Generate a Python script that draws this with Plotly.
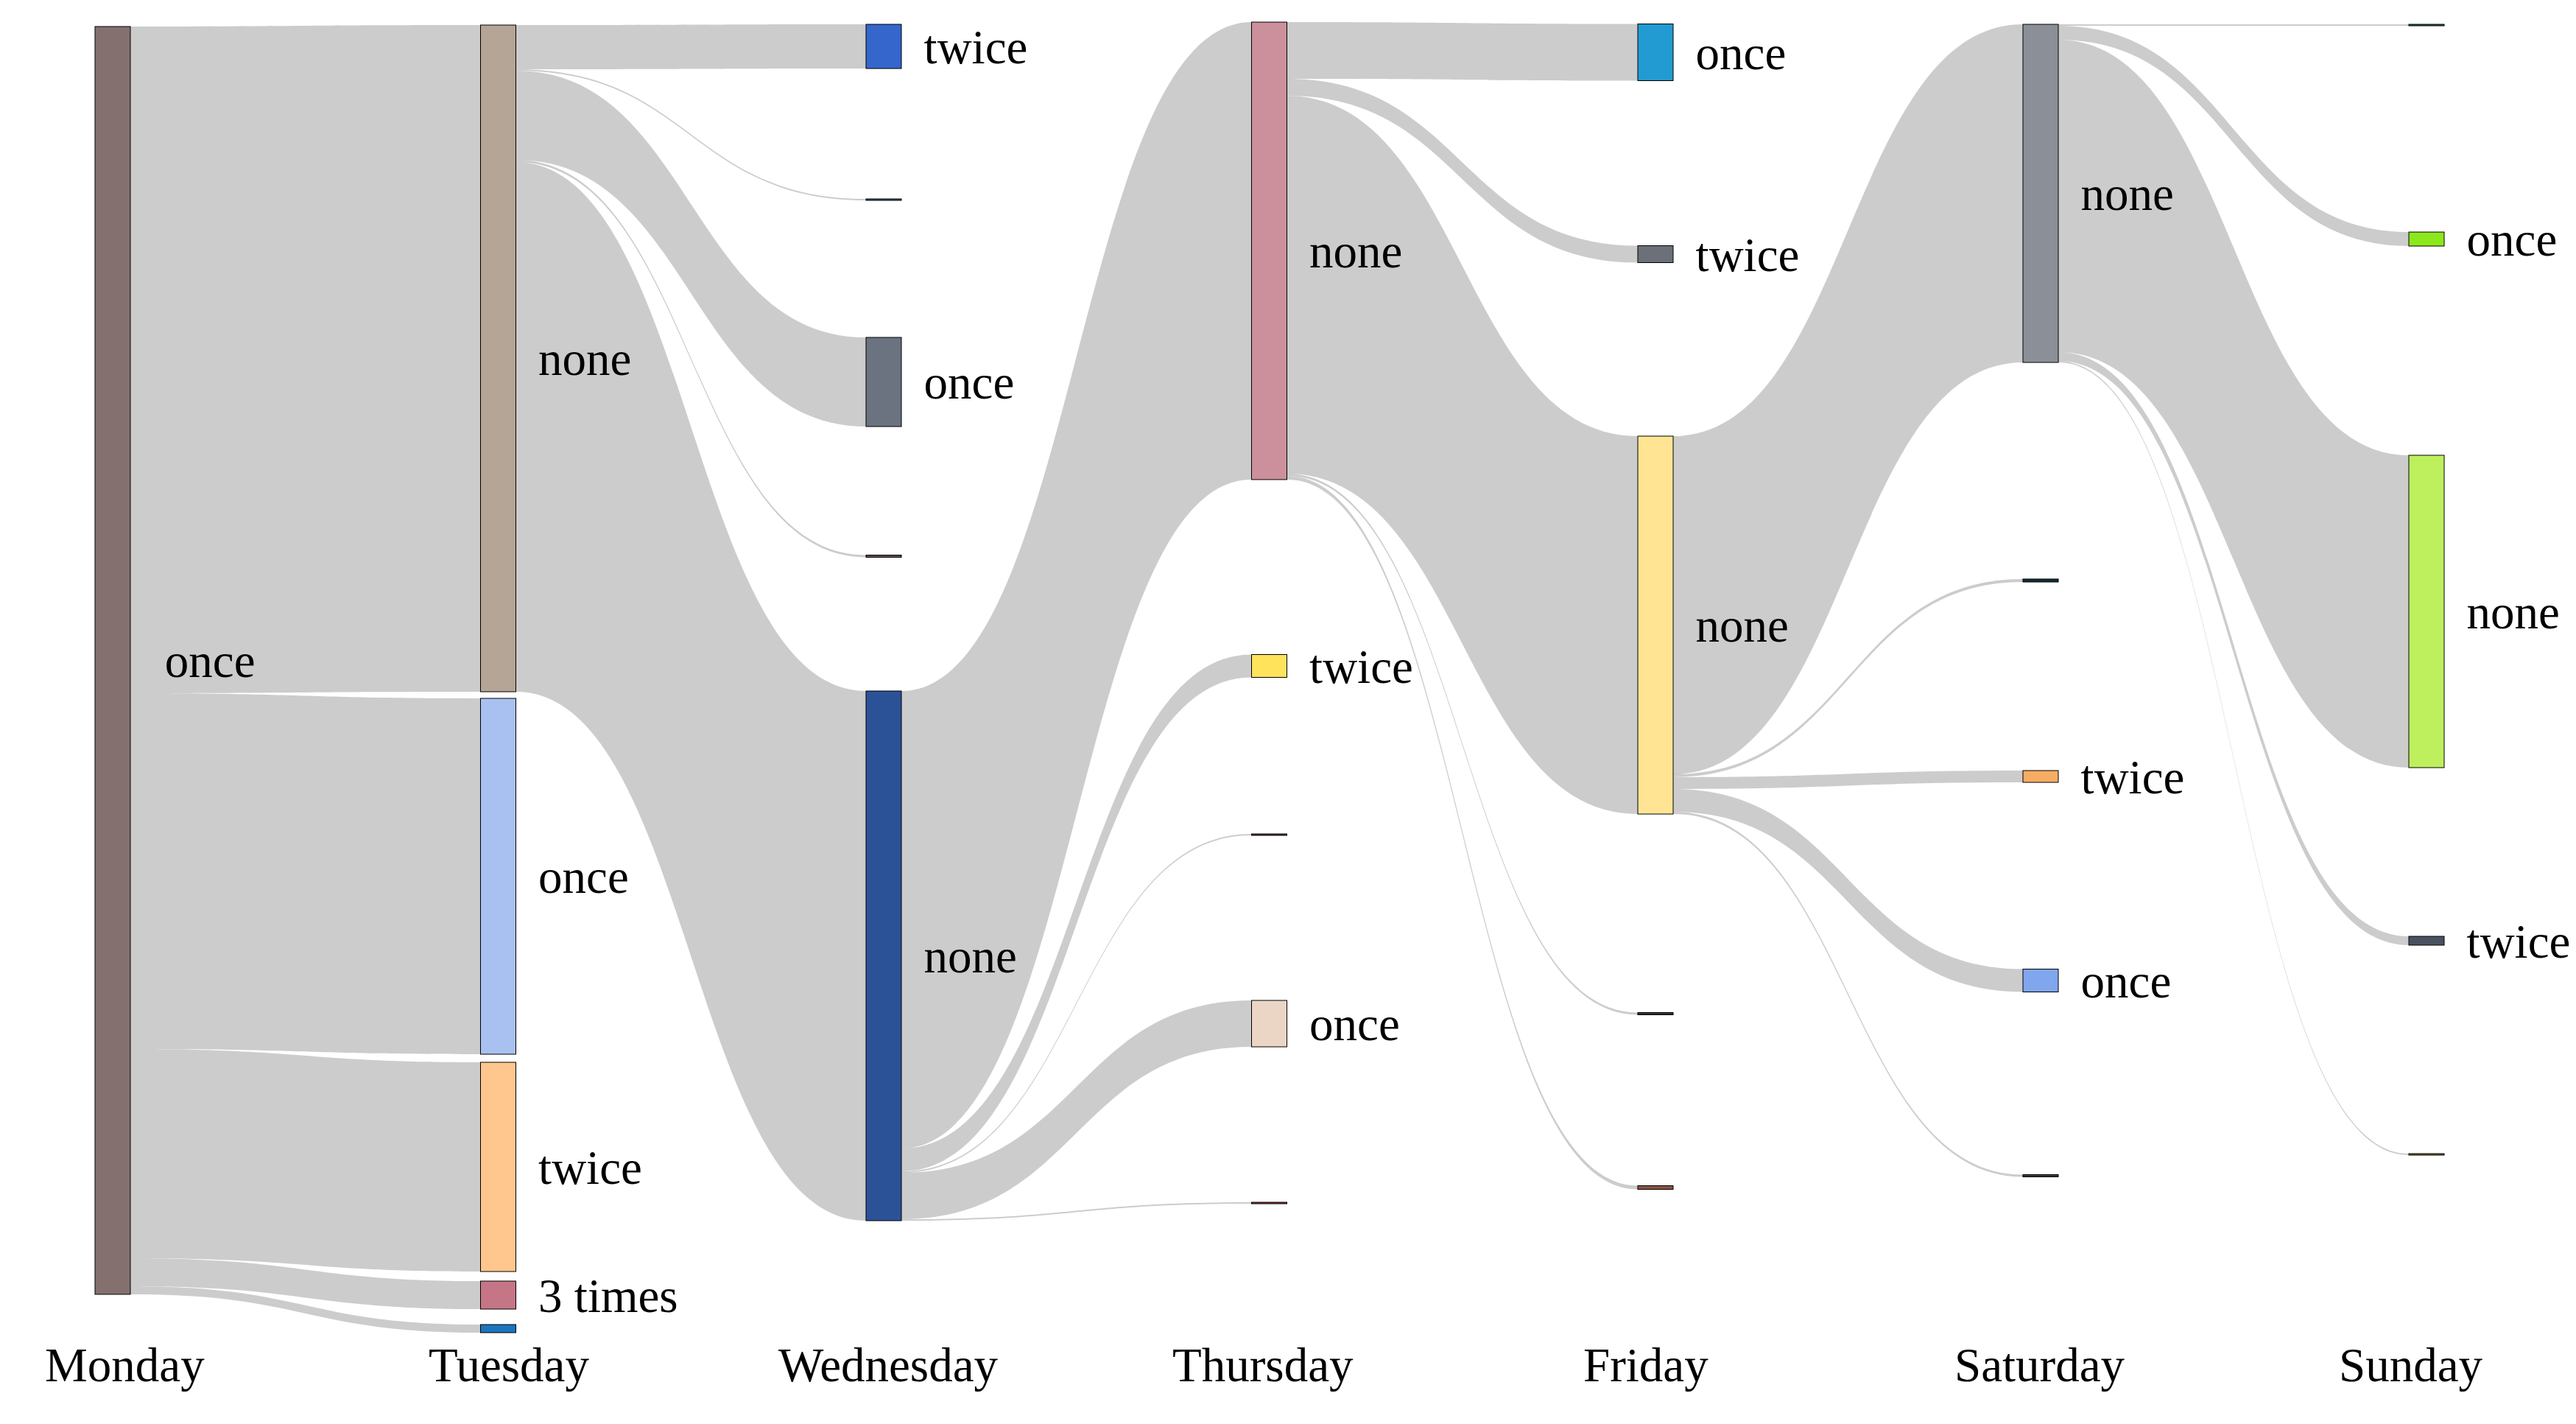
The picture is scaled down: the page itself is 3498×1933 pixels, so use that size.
import plotly.graph_objects as go

# ---------------- data ----------------
days = ["Monday", "Tuesday", "Wednesday", "Thursday", "Friday", "Saturday", "Sunday"]

node_labels = [
    "once",                                   # Monday
    "none", "once", "twice", "3 times", "",   # Tuesday
    "twice", "", "once", "", "none",          # Wednesday
    "none", "twice", "", "once", "",          # Thursday
    "once", "twice", "none", "", "",          # Friday
    "none", "", "twice", "once", "",          # Saturday
    "", "once", "none", "twice", "",          # Sunday
]
node_day = [0, 1, 1, 1, 1, 1, 2, 2, 2, 2, 2, 3, 3, 3, 3, 3,
            4, 4, 4, 4, 4, 5, 5, 5, 5, 5, 6, 6, 6, 6, 6]

link_source = [0, 0, 0, 0, 0,
               1, 1, 1, 1, 1,
               10, 10, 10, 10, 10,
               11, 11, 11, 11, 11,
               18, 18, 18, 18, 18,
               21, 21, 21, 21, 21]
link_target = [1, 2, 3, 4, 5,
               6, 7, 8, 9, 10,
               11, 12, 13, 14, 15,
               16, 17, 18, 19, 20,
               21, 22, 23, 24, 25,
               26, 27, 28, 29, 30]
link_value = [905, 483, 284, 38, 11,
              60, 2, 121, 3, 719,
              621, 31, 2, 63, 2,
              77, 23, 513, 3, 5,
              459, 4, 16, 31, 3,
              2, 19, 424, 12, 2]

# ---------------- styles / layout ----------------
node_colors = [
    "#857070",
    "#B5A597", "#A9C1F0", "#FFC68E", "#C57686", "#1C75BC",
    "#3466CC", "#2E6470", "#6B7380", "#5E4C52", "#2B5297",
    "#CC909C", "#FFE35A", "#5B3646", "#EBD6C6", "#8E3B3B",
    "#229BD2", "#6B7079", "#FFE593", "#333333", "#8A5240",
    "#8A8F98", "#0F2F38", "#F7AC63", "#80A6EE", "#383838",
    "#1E5E5E", "#8CE81C", "#BDF05C", "#4A5260", "#7B6B35",
]
# column centres (px) and vertical node centres (px) in the 3498x1933 canvas
col_x_px = [154, 677.5, 1201, 1724.5, 2249, 2772, 3296]
node_y_px = [896.5,
             486.5, 1189.5, 1584, 1758, 1803.5,
             63, 271, 518.5, 755, 1297.5,
             340.5, 904, 1133, 1389.5, 1633,
             71, 345, 848.5, 1376, 1612,
             262.5, 788, 1054, 1331, 1596,
             34, 324.5, 830, 1277, 1567]
day_label_x_px = [161, 683, 1198, 1707, 2227, 2762, 3266]

W_FIG, H_FIG = 3498, 1933
ML, MR, MT, PAD = 100, 98, 30, 10
DX, DY = -9, -8          # renderer offset correction
PW = W_FIG - ML - MR
total = sum(link_value[:5])
PH = total + 4 * PAD
MB = H_FIG - MT - PH

node_x = [(col_x_px[d] + DX - ML) / PW for d in node_day]
node_y = [(y + DY - MT) / PH for y in node_y_px]


def darker(hex_color, f=0.85):
    h = hex_color.lstrip("#")
    r, g, b = (int(h[i:i + 2], 16) for i in (0, 2, 4))
    return "rgb(%d,%d,%d)" % (r * f, g * f, b * f)


# label spacing from the node (text only)
gap = "\u00a0\u2006"
shown_labels = [("\u2002\u2006" if i == 0 else gap) + t if t else "" for i, t in enumerate(node_labels)]

# invisible helper node (off-canvas) so Sunday labels sit to the right of the nodes
colors_all = node_colors + ["rgba(0,0,0,0)"]
line_colors = [darker(c) for c in node_colors] + ["rgba(0,0,0,0)"]
labels_all = shown_labels + [""]
x_all = node_x + [1.3]
y_all = node_y + [node_y[28]]
src_all = link_source + [28]
tgt_all = link_target + [31]
val_all = link_value + [0.001]
link_colors = ["rgba(0,0,0,0.2)"] * len(link_value) + ["rgba(0,0,0,0)"]

FONT = "Liberation Serif, Times New Roman, serif"

fig = go.Figure(go.Sankey(
    arrangement="fixed",
    node=dict(
        label=labels_all,
        color=colors_all,
        x=x_all,
        y=y_all,
        pad=PAD,
        thickness=48,
        line=dict(color=line_colors, width=1),
        align="left",
    ),
    link=dict(
        source=src_all,
        target=tgt_all,
        value=val_all,
        color=link_colors,
    ),
    textfont=dict(family=FONT, size=65, color="black", shadow="none"),
))

annotations = []
for d, name in enumerate(days):
    annotations.append(dict(
        x=(day_label_x_px[d] - ML) / PW,
        y=(H_FIG - MB - 1845) / PH,
        xref="paper", yref="paper",
        text=name, showarrow=False,
        xanchor="center", yanchor="middle",
        font=dict(family=FONT, size=65, color="black"),
    ))

fig.update_layout(
    width=W_FIG, height=H_FIG,
    margin=dict(l=ML, r=MR, t=MT, b=MB),
    paper_bgcolor="white",
    plot_bgcolor="white",
    annotations=annotations,
)

fig.write_html("out.html")
